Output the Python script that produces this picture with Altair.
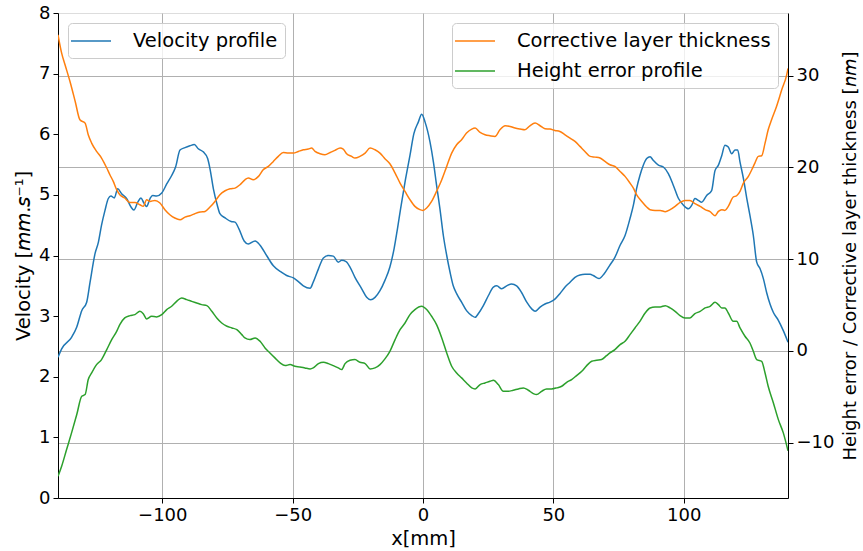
import altair as alt
import pandas as pd

FONT = "DejaVu Sans"

# Velocity profile (left axis, mm/s) : (x [mm], velocity)
VELOCITY = [
    (-140.0, 2.32), (-138.6, 2.46), (-134.8, 2.65), (-132.8, 2.82), (-130.9, 3.09),
    (-129.0, 3.23), (-127.7, 3.56), (-125.8, 4.03), (-124.5, 4.22), (-123.3, 4.50),
    (-122.0, 4.74), (-120.7, 4.94), (-119.7, 4.98), (-118.4, 4.95), (-117.1, 5.10),
    (-115.6, 5.02), (-113.7, 4.94), (-112.0, 4.80), (-110.9, 4.75), (-109.4, 4.88),
    (-108.2, 4.95), (-107.1, 4.87), (-106.0, 4.81), (-104.7, 4.94), (-103.7, 4.99),
    (-102.2, 4.98), (-100.2, 5.03), (-98.3, 5.18), (-96.4, 5.32), (-94.9, 5.46),
    (-93.2, 5.74), (-91.3, 5.78), (-89.4, 5.81), (-87.7, 5.83), (-86.2, 5.76),
    (-84.3, 5.71), (-82.6, 5.60), (-81.7, 5.43), (-80.4, 5.10), (-78.9, 4.83),
    (-77.9, 4.69), (-75.9, 4.62), (-73.6, 4.56), (-72.1, 4.55), (-70.6, 4.44),
    (-68.6, 4.24), (-67.0, 4.19), (-64.4, 4.24), (-62.5, 4.17), (-60.0, 4.00),
    (-57.4, 3.83), (-54.2, 3.72), (-52.3, 3.67), (-49.7, 3.63), (-47.8, 3.57),
    (-45.9, 3.50), (-43.3, 3.46), (-42.1, 3.56), (-40.1, 3.78), (-38.2, 3.96),
    (-36.3, 4.00), (-34.4, 3.99), (-32.5, 3.89), (-31.2, 3.92), (-29.5, 3.90),
    (-28.0, 3.81), (-26.1, 3.64), (-23.5, 3.45), (-21.6, 3.31), (-20.1, 3.27),
    (-18.4, 3.31), (-16.5, 3.42), (-14.6, 3.59), (-12.7, 3.81), (-11.1, 4.11),
    (-9.8, 4.44), (-8.6, 4.77), (-6.9, 5.21), (-5.0, 5.65), (-3.5, 6.01),
    (-1.8, 6.20), (-0.5, 6.33), (0.8, 6.20), (2.7, 5.87), (4.0, 5.54),
    (5.2, 5.16), (6.5, 4.77), (7.8, 4.33), (9.1, 4.00), (10.4, 3.72),
    (11.6, 3.50), (12.9, 3.37), (14.8, 3.23), (16.7, 3.09), (18.7, 3.01),
    (20.0, 2.98), (21.2, 3.04), (23.1, 3.17), (25.1, 3.34), (27.0, 3.48),
    (28.3, 3.50), (30.2, 3.45), (32.1, 3.50), (34.0, 3.53), (35.9, 3.50),
    (37.8, 3.39), (39.8, 3.23), (41.7, 3.12), (43.0, 3.08), (44.9, 3.15),
    (46.8, 3.20), (48.7, 3.23), (50.6, 3.28), (52.5, 3.37), (54.5, 3.48),
    (56.4, 3.56), (58.3, 3.64), (60.2, 3.68), (62.1, 3.69), (64.1, 3.69),
    (65.3, 3.67), (67.5, 3.62), (69.5, 3.70), (71.5, 3.83), (73.6, 3.97),
    (75.6, 4.17), (77.5, 4.33), (79.4, 4.61), (80.7, 4.83), (81.9, 5.10),
    (83.2, 5.32), (84.5, 5.49), (85.8, 5.60), (87.1, 5.63), (88.3, 5.57),
    (90.3, 5.49), (92.2, 5.46), (94.1, 5.35), (96.0, 5.16), (98.0, 4.94),
    (99.9, 4.83), (101.8, 4.77), (103.1, 4.83), (104.3, 4.94), (105.6, 4.91),
    (106.9, 4.88), (108.8, 4.99), (110.7, 5.07), (112.0, 5.40), (113.3, 5.49),
    (114.6, 5.65), (115.8, 5.82), (117.1, 5.79), (118.4, 5.68), (119.7, 5.74),
    (120.7, 5.74), (121.6, 5.54), (122.9, 5.27), (124.2, 4.94), (125.4, 4.66),
    (126.7, 4.33), (128.0, 3.89), (129.3, 3.78), (130.6, 3.61), (131.8, 3.39),
    (133.1, 3.20), (134.4, 3.06), (136.3, 2.93), (138.2, 2.76), (140.0, 2.57),
]

# Corrective layer thickness (right axis, nm) : (x [mm], thickness)
THICKNESS = [
    (-140.0, 34.47), (-138.6, 32.47), (-137.3, 31.20), (-135.4, 29.38), (-133.4, 27.20),
    (-131.6, 25.21), (-129.6, 24.84), (-128.4, 23.57), (-127.1, 22.66), (-125.2, 21.76),
    (-123.3, 21.03), (-121.3, 19.94), (-120.1, 19.21), (-118.8, 18.48), (-117.5, 17.58),
    (-116.3, 17.03), (-114.4, 16.67), (-112.4, 16.19), (-110.5, 16.19), (-108.6, 15.94),
    (-107.3, 15.76), (-106.0, 16.49), (-104.7, 16.30), (-102.8, 16.41), (-100.9, 16.12),
    (-99.0, 15.40), (-97.1, 14.85), (-95.2, 14.49), (-93.2, 14.30), (-91.3, 14.59),
    (-89.4, 14.74), (-87.5, 14.96), (-85.5, 15.14), (-83.6, 15.21), (-81.7, 15.68),
    (-79.8, 16.30), (-77.9, 17.03), (-75.9, 17.46), (-74.0, 17.68), (-72.1, 17.75),
    (-70.2, 18.12), (-68.3, 18.66), (-67.0, 18.85), (-65.1, 18.66), (-63.1, 19.03),
    (-61.3, 19.75), (-59.3, 20.12), (-57.4, 20.66), (-55.5, 21.21), (-53.6, 21.64),
    (-51.7, 21.57), (-49.7, 21.57), (-47.8, 21.75), (-45.9, 21.93), (-44.0, 22.01),
    (-42.7, 22.12), (-41.4, 21.75), (-39.5, 21.50), (-37.6, 21.39), (-35.6, 21.64),
    (-33.8, 21.86), (-31.8, 22.12), (-30.6, 22.01), (-29.3, 21.50), (-27.4, 21.21),
    (-26.1, 21.03), (-24.2, 21.21), (-22.2, 21.57), (-20.3, 22.12), (-18.4, 21.93),
    (-16.5, 21.57), (-14.6, 20.96), (-12.7, 20.41), (-10.7, 19.39), (-8.8, 18.30),
    (-6.9, 17.39), (-5.0, 16.49), (-3.1, 15.76), (-1.2, 15.40), (-0.1, 15.32),
    (1.4, 15.58), (3.3, 16.30), (5.2, 17.39), (7.2, 18.66), (9.1, 20.12),
    (11.0, 21.57), (12.9, 22.48), (14.8, 23.02), (16.7, 23.75), (18.7, 24.19),
    (20.0, 24.30), (21.9, 23.83), (23.8, 23.57), (25.7, 23.46), (27.6, 23.39),
    (29.5, 24.11), (31.5, 24.55), (33.4, 24.48), (35.3, 24.30), (37.2, 24.19),
    (39.1, 24.11), (41.0, 24.55), (43.0, 24.84), (44.9, 24.55), (46.8, 24.23),
    (48.7, 24.19), (50.6, 24.04), (52.5, 23.93), (54.5, 23.57), (56.4, 23.21),
    (58.3, 22.84), (60.2, 22.30), (62.1, 21.75), (64.1, 21.21), (66.0, 21.13),
    (67.9, 21.03), (69.8, 20.66), (71.7, 20.30), (73.6, 20.12), (75.6, 19.57),
    (77.5, 19.03), (79.4, 18.30), (80.7, 17.75), (81.9, 17.03), (83.9, 16.30),
    (85.8, 15.69), (87.1, 15.40), (89.0, 15.32), (91.0, 15.32), (92.9, 15.18),
    (94.8, 15.40), (96.7, 15.76), (98.6, 16.19), (100.5, 16.41), (102.4, 16.41),
    (104.3, 16.05), (106.3, 15.76), (108.2, 15.40), (110.1, 15.18), (112.0, 14.74),
    (113.3, 15.21), (114.6, 15.40), (115.8, 15.32), (117.1, 15.76), (119.0, 16.78),
    (120.3, 16.92), (121.6, 17.39), (122.9, 18.30), (124.8, 19.03), (126.1, 19.75),
    (127.3, 20.48), (128.6, 21.21), (129.9, 21.28), (131.2, 22.66), (132.4, 24.11),
    (133.7, 25.21), (135.6, 26.66), (137.6, 28.47), (139.5, 30.11), (140.0, 30.80),
]

# Height error profile (right axis, nm) : (x [mm], height error)
HEIGHT_ERROR = [
    (-140.0, -13.67), (-138.6, -12.58), (-136.7, -10.76), (-134.8, -8.95), (-132.8, -6.95),
    (-130.9, -4.95), (-129.6, -4.77), (-128.4, -3.13), (-127.1, -2.41), (-125.2, -1.50),
    (-123.3, -0.95), (-121.3, 0.14), (-119.4, 1.23), (-117.5, 2.13), (-116.3, 2.86),
    (-114.4, 3.59), (-112.4, 3.84), (-110.5, 3.95), (-108.6, 4.31), (-107.3, 4.06),
    (-106.0, 3.48), (-104.1, 3.77), (-102.2, 3.70), (-100.2, 3.95), (-98.3, 4.50),
    (-96.4, 4.86), (-94.5, 5.40), (-92.6, 5.77), (-90.6, 5.59), (-88.7, 5.40),
    (-86.8, 5.22), (-84.9, 5.04), (-82.9, 4.93), (-81.0, 4.31), (-79.1, 3.59),
    (-77.2, 3.04), (-75.2, 2.68), (-73.3, 2.50), (-71.4, 2.31), (-69.5, 1.77),
    (-68.3, 1.41), (-66.4, 1.23), (-64.4, 1.41), (-62.5, 1.04), (-60.6, 0.32),
    (-58.7, -0.23), (-56.8, -0.77), (-54.8, -1.32), (-52.9, -1.61), (-51.0, -1.50),
    (-49.1, -1.68), (-47.2, -1.75), (-45.3, -1.86), (-43.3, -1.97), (-42.1, -1.86),
    (-40.1, -1.39), (-38.2, -1.25), (-36.3, -1.39), (-34.4, -1.61), (-32.5, -1.86),
    (-31.2, -2.04), (-29.9, -1.39), (-28.0, -1.03), (-26.1, -0.95), (-24.2, -1.25),
    (-22.2, -1.39), (-20.3, -1.97), (-18.4, -1.86), (-16.5, -1.50), (-14.6, -0.88),
    (-12.7, -0.05), (-10.7, 1.23), (-8.8, 2.31), (-6.9, 3.04), (-5.0, 3.95),
    (-3.1, 4.50), (-0.5, 4.86), (1.4, 4.50), (3.3, 3.77), (5.2, 2.86),
    (7.2, 1.41), (9.1, -0.23), (11.0, -1.68), (12.9, -2.41), (14.8, -2.95),
    (16.7, -3.50), (18.7, -4.04), (20.0, -4.15), (21.9, -3.68), (23.8, -3.50),
    (25.7, -3.32), (27.0, -3.21), (28.9, -3.68), (30.8, -4.41), (32.7, -4.41),
    (34.6, -4.30), (36.6, -4.15), (38.5, -4.04), (40.4, -4.30), (42.3, -4.66),
    (43.6, -4.77), (45.5, -4.41), (47.4, -4.15), (49.3, -4.15), (51.3, -4.04),
    (53.2, -3.86), (55.1, -3.43), (57.0, -3.13), (58.9, -2.70), (60.9, -2.23),
    (62.8, -1.61), (64.7, -1.14), (66.6, -1.03), (68.5, -0.95), (70.4, -0.52),
    (71.7, -0.23), (73.6, 0.14), (75.6, 0.68), (77.5, 1.04), (79.4, 1.77),
    (81.3, 2.50), (83.2, 3.22), (85.2, 4.13), (87.1, 4.68), (89.0, 4.79),
    (91.0, 4.79), (92.9, 4.93), (94.8, 4.68), (96.7, 4.31), (98.6, 3.84),
    (100.5, 3.59), (102.4, 3.59), (104.3, 4.06), (106.3, 4.31), (108.2, 4.68),
    (110.1, 4.86), (112.0, 5.29), (113.3, 5.04), (114.6, 4.68), (115.8, 4.68),
    (117.1, 4.13), (119.0, 3.22), (120.3, 3.22), (121.6, 2.50), (123.5, 1.59),
    (125.4, 0.86), (126.7, -0.05), (128.0, -0.95), (129.9, -1.14), (131.2, -2.41),
    (132.4, -3.86), (134.4, -5.68), (136.3, -7.50), (138.2, -8.95), (140.0, -10.90),
]

LEFT_SERIES = ["Velocity profile"]
LEFT_COLORS = ["#1f77b4"]
RIGHT_SERIES = ["Corrective layer thickness", "Height error profile"]
RIGHT_COLORS = ["#ff7f0e", "#2ca02c"]

X_TICKS = [-100, -50, 0, 50, 100]
V_TICKS = [0, 1, 2, 3, 4, 5, 6, 7, 8]
R_TICKS = [-10, 0, 10, 20, 30]
X_DOMAIN = [-140, 140]
V_DOMAIN = [0, 8]
R_DOMAIN = [-16.05, 36.85]

vel_df = pd.DataFrame(VELOCITY, columns=["x", "y"])
vel_df["series"] = LEFT_SERIES[0]
thk_df = pd.DataFrame(THICKNESS, columns=["x", "y"])
thk_df["series"] = RIGHT_SERIES[0]
err_df = pd.DataFrame(HEIGHT_ERROR, columns=["x", "y"])
err_df["series"] = RIGHT_SERIES[1]
right_df = pd.concat([thk_df, err_df], ignore_index=True)

axis_common = dict(
    labelFont=FONT, labelFontSize=18, labelColor="black",
    titleFont=FONT, titleColor="black", titleFontWeight="normal",
    domainColor="black", tickColor="black", tickSize=5, labelPadding=3,
    gridColor="#b0b0b0", gridWidth=1,
)

legend_common = dict(
    title=None, symbolType="M-2,0L2,0", symbolSize=400, symbolStrokeWidth=1.6,
    symbolOffset=5, labelOffset=31, padding=7, rowPadding=9,
    labelFont=FONT, labelFontSize=19.5, labelColor="black", labelLimit=0,
    fillColor="rgba(255,255,255,0.8)", strokeColor="#cccccc", cornerRadius=4,
    offset=10,
)

x_enc = alt.X(
    "x:Q",
    scale=alt.Scale(domain=X_DOMAIN, nice=False, zero=False),
    axis=alt.Axis(values=X_TICKS, title="x[mm]", grid=True, titlePadding=5,
                  titleFontSize=19.5, labelFlush=False, **axis_common),
)

left = alt.Chart(vel_df).mark_line(strokeWidth=1.5, clip=True, interpolate="monotone").encode(
    x=x_enc,
    y=alt.Y(
        "y:Q",
        scale=alt.Scale(domain=V_DOMAIN, nice=False, zero=False),
        axis=alt.Axis(orient="left", values=V_TICKS, grid=False,
                      title="Velocity [𝘮𝘮.𝘴⁻¹]", titlePadding=5,
                      titleFontSize=19.5, **axis_common),
    ),
    color=alt.Color(
        "series:N",
        scale=alt.Scale(domain=LEFT_SERIES, range=LEFT_COLORS),
        legend=alt.Legend(orient="top-left", **legend_common),
    ),
)

right = alt.Chart(right_df).mark_line(strokeWidth=1.5, clip=True, interpolate="monotone").encode(
    x=x_enc,
    y=alt.Y(
        "y:Q",
        scale=alt.Scale(domain=R_DOMAIN, nice=False, zero=False),
        axis=alt.Axis(orient="right", values=R_TICKS, grid=True,
                      title="Height error / Corrective layer thickness [𝘯𝘮]",
                      titlePadding=8, titleAngle=270, titleBaseline="top",
                      titleFontSize=18, **axis_common),
    ),
    color=alt.Color(
        "series:N",
        scale=alt.Scale(domain=RIGHT_SERIES, range=RIGHT_COLORS),
        legend=alt.Legend(orient="top-right", **legend_common),
    ),
    detail="series:N",
)

chart = (
    alt.layer(left, right)
    .resolve_scale(y="independent", color="independent")
    .properties(
        width=730, height=485,
        padding={"left": 58, "top": 13, "right": 75, "bottom": 53},
        autosize=alt.AutoSizeParams(type="none"),
        background="white",
    )
    .configure_view(stroke="black", strokeWidth=1)
    .configure(font=FONT)
)

chart.save("out.html", embed_options={"renderer": "svg", "actions": False})
